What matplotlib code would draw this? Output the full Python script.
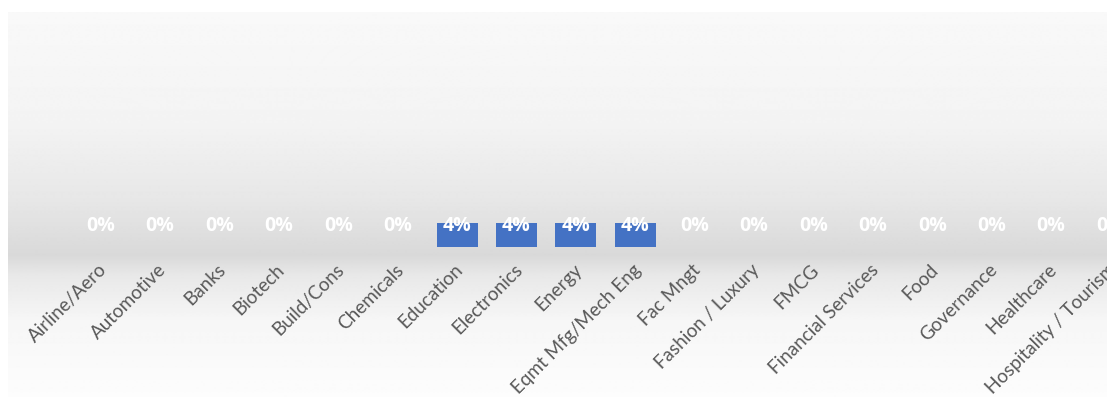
"""Share of placements by sector, hanging-bar style with data labels."""

import numpy as np
import matplotlib
matplotlib.use("Agg")
import matplotlib.pyplot as plt
import matplotlib.transforms as mtransforms

# ── Data ─────────────────────────────────────────────────────────────────────
SECTORS = [
    "Airline/Aero", "Automotive", "Banks", "Biotech", "Build/Cons",
    "Chemicals", "Education", "Electronics", "Energy", "Eqmt Mfg/Mech Eng",
    "Fac Mngt", "Fashion / Luxury", "FMCG", "Financial Services", "Food",
    "Governance", "Healthcare", "Hospitality / Tourism",
]
SHARE = [0, 0, 0, 0, 0, 0, 0.04, 0.04, 0.04, 0.04, 0, 0, 0, 0, 0, 0, 0, 0]

# ── Styling ──────────────────────────────────────────────────────────────────
BAR_BLUE = "#4472C4"
LABEL_GRAY = "#595959"
FONT = "Lato"
BOLD_FONT = ["Open Sans", "DejaVu Sans"]

W, H = 1107, 397
DPI = 100

fig = plt.figure(figsize=(W / DPI, H / DPI), dpi=DPI)
fig.patch.set_facecolor("white")

# chart-area background: soft grey band behind the baseline, fading out
bg = fig.add_axes([8 / W, 0, 1 - 8 / W, 1 - 12 / H])
rows = np.arange(12, H + 1)
stops_px = [12, 120, 200, 255, 275, 320, 397]
stops_lv = [0.975, 0.955, 0.905, 0.85, 0.91, 0.965, 0.99]
shade = np.interp(rows, stops_px, stops_lv)
grad = np.repeat(shade[:, None], 2, axis=1)
bg.imshow(grad, cmap="gray", vmin=0, vmax=1, aspect="auto",
          extent=[0, 1, 0, 1], interpolation="bilinear")
bg.set_axis_off()

# bar axes: slot width 59.4 px, first slot centred at x=100.7, baseline at y=223
slot = 59.4
n = len(SECTORS)
left_px = 100.7 - slot / 2
top_px, bottom_px, base_px = 12, 260, 223
px_per_unit = 600.0

ax = fig.add_axes([left_px / W, 1 - bottom_px / H,
                   n * slot / W, (bottom_px - top_px) / H])
ax.patch.set_alpha(0)

x = np.arange(n)
ax.bar(x, SHARE, width=0.69, color=BAR_BLUE, linewidth=0, zorder=3)

ax.set_xlim(-0.5, n - 0.5)
ax.set_ylim((bottom_px - base_px) / px_per_unit,
            -(base_px - top_px) / px_per_unit)

# data labels sit on the baseline
for xi, val in zip(x, SHARE):
    ax.annotate(f"{val:.0%}", (xi, 0), xytext=(0, -3),
                textcoords="offset pixels", ha="center", va="center",
                fontsize=14, fontweight="bold", color="white",
                family=BOLD_FONT, zorder=4)

ax.set_xticks(x)
ax.set_xticklabels(SECTORS, rotation=45, ha="right", va="center",
                   rotation_mode="anchor", fontsize=13.6, color=LABEL_GRAY,
                   family=FONT)
ax.tick_params(axis="x", length=0, pad=5)
# nudge the slanted labels a few pixels right of the slot centre
nudge = mtransforms.ScaledTranslation(3 / DPI, 0, fig.dpi_scale_trans)
for lbl in ax.get_xticklabels():
    lbl.set_transform(lbl.get_transform() + nudge)
ax.set_yticks([])
for side in ("top", "right", "left", "bottom"):
    ax.spines[side].set_visible(False)

fig.savefig("out.png", dpi=DPI, facecolor="white")
plt.close(fig)
